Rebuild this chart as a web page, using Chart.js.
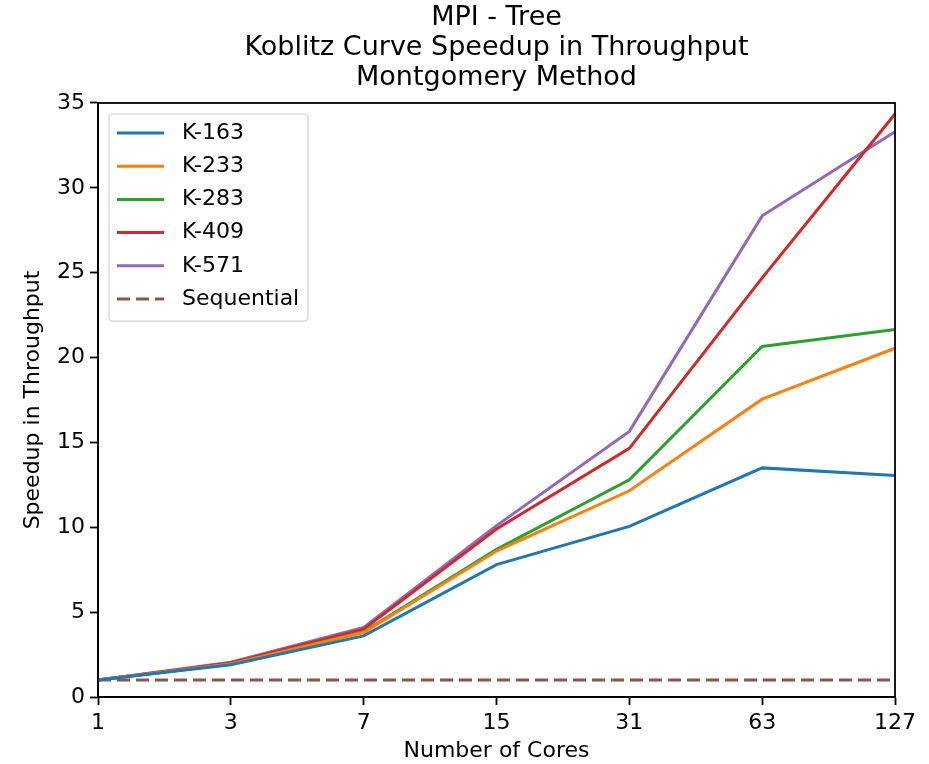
<!DOCTYPE html>
<html>
<head>
<meta charset="utf-8">
<script src="https://cdn.jsdelivr.net/npm/chart.js@4"></script>
<style>
  body { margin: 0; background: #fff; }
  #wrap { width: 929px; height: 764px; }
</style>
</head>
<body>
<div id="wrap"><canvas id="chart" width="929" height="764"></canvas></div>
<script>
// Categories on the x axis (number of cores)
var cores = ["1", "3", "7", "15", "31", "63", "127"];

// Speedup values
var k163 = [1, 1.9, 3.6, 7.8, 10.05, 13.5, 13.05];
var k233 = [1, 1.95, 3.8, 8.6, 12.15, 17.55, 20.55];
var k283 = [1, 1.95, 3.85, 8.7, 12.8, 20.65, 21.65];
var k409 = [1, 2.0, 4.0, 9.9, 14.65, 24.7, 34.35];
var k571 = [1, 2.05, 4.1, 10.1, 15.65, 28.35, 33.3];
var sequential = [1, 1, 1, 1, 1, 1, 1];

var yTicks = [0, 5, 10, 15, 20, 25, 30, 35];

var fontFamily = "'DejaVu Sans', sans-serif";

// Draw the full box around the plot area (matplotlib style)
var frameBox = {
  id: "frameBox",
  afterDraw: function(chart) {
    var a = chart.chartArea;
    var ctx = chart.ctx;
    ctx.save();
    ctx.strokeStyle = "#000";
    ctx.lineWidth = 1.8;
    ctx.strokeRect(a.left, a.top, a.right - a.left, a.bottom - a.top);
    ctx.restore();
  }
};

// Legend drawn inside the plot area, upper left
var innerLegend = {
  id: "innerLegend",
  afterDraw: function(chart) {
    var ctx = chart.ctx;
    var a = chart.chartArea;
    var x0 = a.left + 11, y0 = a.top + 11;
    var w = 199, rowH = 33.2, h = 6 * rowH + 8;
    ctx.save();
    ctx.fillStyle = "rgba(255,255,255,0.8)";
    ctx.strokeStyle = "#d0d0d0";
    ctx.lineWidth = 1.2;
    ctx.beginPath();
    ctx.roundRect(x0, y0, w, h, 4);
    ctx.fill();
    ctx.stroke();
    ctx.font = "22px " + fontFamily;
    ctx.textBaseline = "middle";
    ctx.fillStyle = "#000";
    chart.data.datasets.forEach(function(ds, i) {
      var cy = y0 + 19 + i * rowH;
      ctx.strokeStyle = ds.borderColor;
      ctx.lineWidth = 3;
      ctx.setLineDash(ds.borderDash || []);
      ctx.beginPath();
      ctx.moveTo(x0 + 8, cy);
      ctx.lineTo(x0 + 55, cy);
      ctx.stroke();
      ctx.setLineDash([]);
      ctx.fillText(ds.label, x0 + 73, cy);
    });
    ctx.restore();
  }
};

function line(label, data, color, dash) {
  return {
    label: label,
    data: data,
    borderColor: color,
    backgroundColor: color,
    borderWidth: 3,
    borderDash: dash || [],
    pointRadius: 0,
    tension: 0,
    fill: false
  };
}

new Chart(document.getElementById("chart"), {
  type: "line",
  data: {
    labels: cores,
    datasets: [
      line("K-163", k163, "#1f77b4"),
      line("K-233", k233, "#ff7f0e"),
      line("K-283", k283, "#2ca02c"),
      line("K-409", k409, "#d62728"),
      line("K-571", k571, "#9467bd"),
      line("Sequential", sequential, "#8c564b", [13, 6])
    ]
  },
  options: {
    responsive: false,
    animation: false,
    layout: { padding: { left: 0, right: 34, top: 0, bottom: 0 } },
    plugins: {
      legend: { display: false },
      tooltip: { enabled: false },
      title: {
        display: true,
        fullSize: false,
        text: ["MPI - Tree", "Koblitz Curve Speedup in Throughput", "Montgomery Method"],
        color: "#000",
        font: { family: fontFamily, size: 27, weight: "normal", lineHeight: 1.111 },
        padding: { top: 3, bottom: 10 }
      }
    },
    scales: {
      x: {
        type: "category",
        offset: false,
        grid: { display: true, drawOnChartArea: false, drawTicks: true, tickLength: 8, tickColor: "#000", tickWidth: 1.8 },
        border: { display: true, color: "#000", width: 1.8 },
        ticks: { color: "#000", font: { family: fontFamily, size: 22 }, padding: 5, maxRotation: 0 },
        title: { display: true, text: "Number of Cores", color: "#000", font: { family: fontFamily, size: 22 }, padding: { top: 0, bottom: 0 } },
        afterFit: function(scale) { scale.height = 67; }
      },
      y: {
        min: 0,
        max: 35,
        afterBuildTicks: function(scale) {
          scale.ticks = yTicks.map(function(v) { return { value: v }; });
        },
        grid: { display: true, drawOnChartArea: false, drawTicks: true, tickLength: 8, tickColor: "#000", tickWidth: 1.8 },
        border: { display: true, color: "#000", width: 1.8 },
        ticks: { color: "#000", font: { family: fontFamily, size: 22 }, padding: 5 },
        title: { display: true, text: "Speedup in Throughput", color: "#000", font: { family: fontFamily, size: 22 }, padding: { top: 20, bottom: 0 } },
        afterFit: function(scale) { scale.width = 98; }
      }
    }
  },
  plugins: [frameBox, innerLegend]
});
</script>
</body>
</html>
